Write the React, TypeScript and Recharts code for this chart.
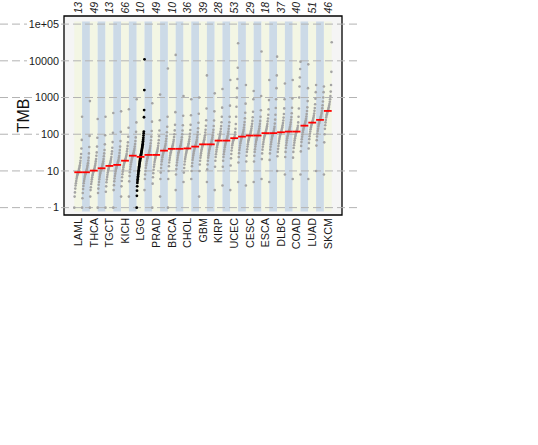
import {
  ReferenceArea,
  ReferenceLine,
  Scatter,
  ScatterChart,
  XAxis,
  YAxis
} from "recharts";

// cohorts in order of median TMB; only every other label fits on the axes
const cohortNames = [
  "LAML", "PCPG", "THCA", "UVM", "TGCT", "THYM", "KICH", "ACC", "LGG", "MESO", "PRAD",
  "SARC", "BRCA", "KIRC", "CHOL", "UCS", "GBM", "OV", "KIRP", "PAAD", "UCEC", "LIHC",
  "CESC", "HNSC", "ESCA", "STAD", "DLBC", "BLCA", "COAD", "READ", "LUAD", "LUSC", "SKCM"
];
// sample counts as printed above the labelled cohorts
const sizeLabels = [
  "13", "49", "13", "66", "10", "49", "10", "36", "39", "28", "53", "29", "18", "37", "40", "51", "46"
];
const inputCohort = "LGG";
const yTicks = [1, 10, 100, 1000, 10000, 100000];

// sorted TMB values per cohort
const LAML = [1, 2, 2.6, 3.3, 4, 4.6, 5.3, 6.1, 6.8, 7.5, 8.1, 8.7, 9.2, 9.8, 10.6, 11.6, 12.7, 14.3, 16.4, 19, 23, 29, 41, 70, 300];
const PCPG = [1, 1.8, 2.5, 3.2, 3.9, 4.6, 5.3, 6, 6.8, 7.4, 8.1, 8.7, 9.2, 9.9, 10.6, 11.5, 12.7, 14.2, 16.3, 19.2, 23, 30, 45, 90, 800];
const THCA = [1, 2, 3, 3.6, 4.4, 5.1, 5.9, 6.7, 7.6, 8.3, 9, 9.6, 10.2, 10.9, 11.7, 12.8, 14.1, 15.8, 18.2, 21, 26, 32, 46, 80, 260];
const UVM = [1, 2.5, 3.3, 4.2, 5, 5.9, 6.8, 7.8, 8.7, 9.6, 10.4, 11.1, 11.8, 12.6, 13.6, 14.9, 16.3, 18.3, 21, 25, 30, 37, 53, 94, 300];
const TGCT = [1, 2.7, 3.8, 4.9, 5.8, 6.8, 7.9, 9, 10.1, 11.1, 12, 12.9, 13.7, 14.7, 15.8, 17.3, 18.9, 21, 24, 29, 34, 43, 61, 110, 380];
const THYM = [1, 3, 4.1, 5.2, 6.2, 7.3, 8.4, 9.6, 10.8, 11.8, 12.8, 13.8, 14.6, 15.6, 16.8, 18.4, 20, 23, 26, 31, 37, 46, 65, 116, 420];
const KICH = [2, 3.8, 5.3, 6.7, 8.1, 9.5, 10.9, 12.5, 14, 15.4, 16.7, 17.9, 19, 20.3, 21.9, 24, 26, 29, 34, 40, 48, 60, 85, 150, 480];
const ACC = [2, 5.2, 7.3, 9.2, 11, 13, 15, 17, 19, 21, 23, 24.5, 26, 28, 30, 33, 36, 40, 46, 54, 65, 82, 116, 210, 900];
const LGG = [
  1, 2.1, 2.9, 3.8, 4.7, 5.3, 5.9, 6.5, 7.2, 8, 8.8, 9.6, 10.5, 11.4, 12.4, 13.4,
  14.5, 15.6, 16.8, 18, 19.3, 20.6, 22, 23.4, 25, 26.5, 28, 29.6, 31.3, 33.2, 35.2, 37.4,
  40, 42.7, 45.6, 49, 53, 58, 64, 71, 80, 92, 105, 118, 290, 455, 1600, 11000
];
const MESO = [3, 6, 8, 10, 12, 14, 16, 18, 20, 22, 24, 25.8, 27.3, 29, 31, 34, 37.5, 42, 48, 57, 68, 86, 122, 220, 700];
const PRAD = [1, 4.5, 6.7, 8.7, 10.8, 12.9, 15, 17.4, 19.8, 21.9, 23.8, 25.6, 27.3, 29.2, 31.4, 34.4, 37.8, 42.3, 48.6, 57, 69, 88, 126, 240, 1200];
const SARC = [2, 6, 9, 12, 15, 18, 20.5, 23.5, 26.4, 29, 31.4, 33.7, 35.7, 38.2, 41, 45, 49, 55, 64, 75, 90, 113, 160, 300, 6200];
const BRCA = [1, 6, 10, 13.5, 17, 20, 23, 26.4, 29.6, 32.4, 35.2, 37.8, 40, 42.8, 46, 50.4, 55, 62, 71, 84, 100, 127, 180, 400, 14500];
const KIRC = [3, 8, 11.2, 14.2, 17, 20, 23, 26.4, 29.6, 32.4, 35.2, 37.8, 40, 42.8, 46, 50, 55, 62, 71, 83, 100, 126, 175, 320, 1100];
const CHOL = [5, 9, 12, 15, 18, 21, 24, 27, 30, 33, 36, 38.7, 41, 44, 47, 52, 57, 64, 73, 86, 103, 130, 180, 330, 900];
const UCS = [6, 10, 13.5, 16.5, 20, 23, 26.5, 30, 34, 37.3, 40.5, 43.4, 46, 49, 53, 58, 63.5, 71, 82, 96, 115, 145, 205, 360, 1000];
const GBM = [2, 10, 15, 19, 23, 26.5, 30.5, 35, 39, 43, 46.6, 50, 53, 56.7, 61, 67, 73, 82, 94, 111, 133, 170, 240, 500, 4000];
const OV = [5, 11, 15, 19, 23, 26.5, 30.5, 35, 39, 43, 46.6, 50, 53, 56.7, 61, 67, 73, 82, 94, 111, 133, 168, 237, 420, 1300];
const KIRP = [3, 13, 19, 24, 28.6, 33.5, 38.5, 44, 49.6, 54, 59, 63, 67, 71.7, 77, 84.4, 92.5, 104, 119, 140, 168, 212, 300, 530, 1700];
const PAAD = [4, 13, 19, 24, 28.6, 33.5, 38.5, 44, 49.6, 54, 59, 63, 67, 71.7, 77, 84.4, 92.5, 104, 119, 140, 168, 212, 300, 600, 3000];
const UCEC = [3, 14, 22, 29, 36, 43, 50, 56, 62, 67, 71, 75, 78, 85, 96, 112, 140, 190, 300, 560, 1000, 1800, 3200, 6500, 30000];
const LIHC = [5, 17, 24, 30.5, 37, 43, 49.5, 57, 63.6, 70, 75.7, 81, 86, 92, 99, 108, 119, 133, 153, 180, 216, 272, 385, 680, 2200];
const CESC = [4, 18, 26, 33, 39, 46, 53, 61, 68, 74.5, 81, 87, 92, 98.5, 106, 116, 127, 143, 164, 192, 231, 291, 411, 900, 1500];
const HNSC = [5, 18, 26, 33, 39, 46, 53, 61, 68, 74.5, 81, 87, 92, 98.5, 106, 116, 127, 143, 164, 192, 231, 300, 450, 1100, 18000];
const ESCA = [6, 21, 30, 38, 45.7, 53.5, 61.5, 70.6, 79, 87, 94, 101, 107, 114.5, 123, 135, 148, 166, 190, 224, 269, 338, 478, 850, 3000];
const STAD = [5, 20, 30, 38, 45.7, 53.5, 61.5, 70.6, 79, 87, 94, 101, 107, 115, 125, 140, 160, 195, 250, 340, 520, 900, 1800, 4000, 13000];
const DLBC = [10, 25, 33, 40, 48, 56.5, 65, 74.6, 83.6, 91.5, 99.4, 106.7, 113, 121, 130, 142, 156, 175, 201, 236, 284, 357, 505, 900, 2400];
const BLCA = [8, 24, 33, 42, 50, 59, 68, 78, 87, 95.6, 104, 111, 118, 126, 136, 149, 163, 183, 210, 247, 296, 373, 527, 940, 3000];
const COAD = [6, 23, 33, 42, 50, 59, 68, 78, 87, 95.6, 104, 111, 118, 126, 136, 150, 170, 210, 300, 500, 1000, 2000, 3500, 6000, 9500];
const READ = [8, 34, 48, 61, 73, 85.5, 98, 113, 126.5, 138.5, 150.5, 161.4, 171, 183, 197, 216, 236, 265, 305, 357, 430, 540, 800, 1800, 8000];
const LUAD = [6, 41, 58, 73.5, 88, 103.5, 119, 136.6, 153, 167.7, 182, 195, 207, 221.5, 238, 261, 286, 321, 368, 433, 520, 654, 925, 1400, 2200];
const LUSC = [10, 49, 69, 87, 105, 123, 141, 162, 182, 199, 216.5, 232, 246, 263, 283, 310, 339, 381, 438, 514, 617, 777, 1000, 1400, 2000];
const SKCM = [8, 60, 100, 140, 175, 210, 245, 285, 320, 350, 380, 405, 431, 461, 496, 543, 595, 668, 767, 900, 1100, 1450, 2200, 5000, 32000];

const cohortValues = [
  LAML, PCPG, THCA, UVM, TGCT, THYM, KICH, ACC, LGG, MESO, PRAD, SARC, BRCA, KIRC, CHOL,
  UCS, GBM, OV, KIRP, PAAD, UCEC, LIHC, CESC, HNSC, ESCA, STAD, DLBC, BLCA, COAD, READ,
  LUAD, LUSC, SKCM
];

const FONT = "'Liberation Sans', Arial, Helvetica, sans-serif";
const n = cohortNames.length;
const xDomain = [-0.04 * n, n * 1.04];
const yDomain = [0.63, 166300];

const median = (v: number[]) => {
  const m = Math.floor(v.length / 2);
  return v.length % 2 ? v[m] : (v[m - 1] + v[m]) / 2;
};

// each cohort's sorted samples spread across its own slot
const toPoints = (i: number) =>
  cohortValues[i].map((y, k, arr) => ({ x: i + k / (arr.length - 1), y }));

const greyPoints = cohortNames.flatMap((name, i) => (name === inputCohort ? [] : toPoints(i)));
const inputPoints = toPoints(cohortNames.indexOf(inputCohort));
const labelTicks = cohortNames.map((_, i) => i + 0.5).filter((_, i) => i % 2 === 0);

const fmtY = (v: number) => (v >= 100000 ? "1e+05" : String(v));

// cohort name below the panel and sample count above it
const CohortTick = ({ x, payload }: any) => {
  const i = Math.floor(payload.value);
  const bx = x + 3.8;
  return (
    <g fontFamily={FONT}>
      <text x={bx} y={218} transform={`rotate(-90 ${bx} 218)`} textAnchor="end"
        fontSize={10.8} fill="#1a1a1a">
        {cohortNames[i]}
      </text>
      <text x={bx} y={13.5} transform={`rotate(-90 ${bx} 13.5)`} textAnchor="start"
        fontSize={10.5} fontStyle="italic" fill="#222">
        {sizeLabels[i / 2]}
      </text>
    </g>
  );
};

const GridLine = ({ y, label }: { y: number; label: string }) => {
  const stop = 59 - label.length * 6 - 2;
  return (
    <g stroke="#b3b3b3" strokeWidth={1} strokeDasharray="8 4">
      <line x1={0} x2={stop} y1={y} y2={y} />
      <line x1={61} x2={358} y1={y} y2={y} />
    </g>
  );
};

export default function App() {
  return (
    <div>
      <style>{"body{margin:0}"}</style>
      <ScatterChart width={538} height={445} margin={{ top: 16, right: 196, bottom: 0, left: 0 }}>
        <XAxis xAxisId="b" type="number" dataKey="x" domain={xDomain} allowDataOverflow
          ticks={labelTicks} interval={0} tick={<CohortTick />} axisLine={false} tickLine={false}
          height={230} />
        <YAxis type="number" dataKey="y" scale="log" domain={yDomain} allowDataOverflow
          ticks={yTicks} interval={0} tickFormatter={fmtY} width={64} axisLine={false}
          tickLine={false} tickSize={3} tick={{ fontSize: 10.8, fontFamily: FONT, fill: "#1a1a1a" }}
          label={{ value: "TMB", angle: -90, position: "insideLeft", dx: 18,
            style: { fontSize: 16, fontFamily: FONT, fill: "#111", textAnchor: "middle" } }} />

        <ReferenceArea xAxisId="b" x1={xDomain[0]} x2={xDomain[1]} y1={yDomain[0]} y2={yDomain[1]}
          fill="#f5f5f5" fillOpacity={1} stroke="#000" strokeWidth={1.3} />
        {cohortNames.map((name, i) => (
          <ReferenceArea key={name} xAxisId="b" x1={i} x2={i + 1} y1={0.78} y2={117000}
            fill={i % 2 === 0 ? "#f3f6e4" : "#ccdae7"} fillOpacity={1} stroke="none" />
        ))}
        {yTicks.map(v => (
          <ReferenceLine key={v} xAxisId="b" y={v}
            shape={(p: any) => <GridLine y={p.y1} label={fmtY(v)} />} />
        ))}

        <Scatter xAxisId="b" data={greyPoints} isAnimationActive={false}
          shape={(p: any) => <circle cx={p.cx} cy={p.cy} r={1.3} fill="#a4a4a4" />} />
        <Scatter xAxisId="b" data={inputPoints} isAnimationActive={false}
          shape={(p: any) => <circle cx={p.cx} cy={p.cy} r={1.4} fill="#000" />} />

        {cohortNames.map((name, i) => (
          <ReferenceLine key={name + "-med"} xAxisId="b"
            segment={[{ x: i, y: median(cohortValues[i]) }, { x: i + 1, y: median(cohortValues[i]) }]}
            stroke="#ff0000" strokeWidth={1.8} zIndex={700} />
        ))}
      </ScatterChart>
    </div>
  );
}
